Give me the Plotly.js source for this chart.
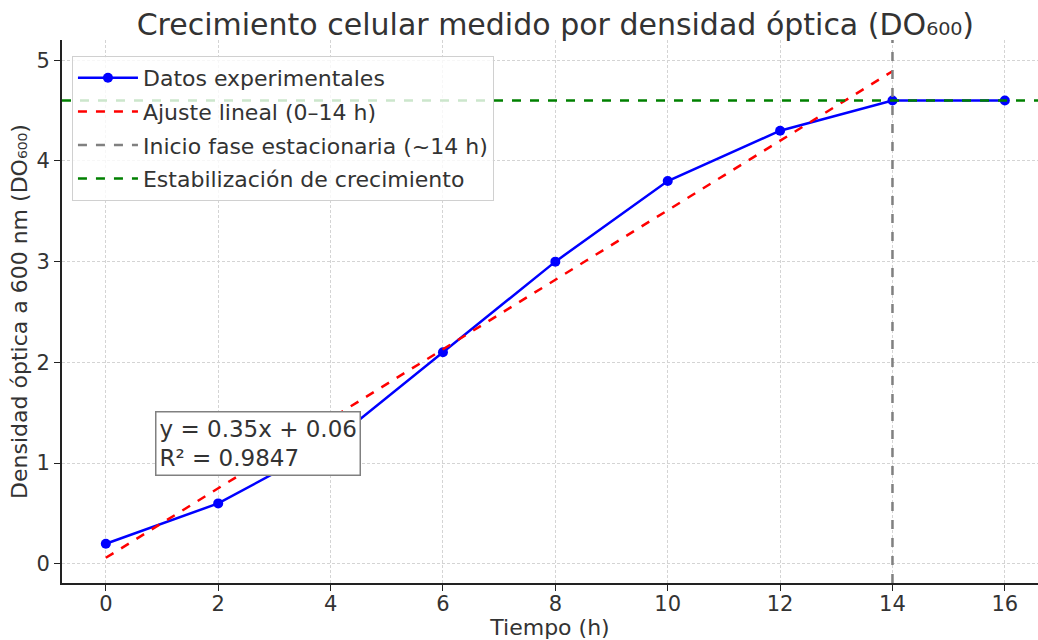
<!DOCTYPE html>
<html>
<head>
<meta charset="utf-8">
<script src="https://cdn.plot.ly/plotly-3.0.1.min.js"></script>
<style>html,body{margin:0;padding:0;background:#fff;}#chart{width:1038px;height:640px;}</style>
</head>
<body>
<div id="chart"></div>
<script>
const tiempo = [0, 2, 4, 6, 8, 10, 12, 14, 16];
const densidad = [0.2, 0.6, 1.2, 2.1, 3.0, 3.8, 4.3, 4.6, 4.6];
const ajusteX = [0, 14];
const ajusteY = [0.06, 4.89];
const inicioEstacionaria = 14;
const estabilizacion = 4.6;
const xTicks = [0, 2, 4, 6, 8, 10, 12, 14, 16];
const yTicks = [0, 1, 2, 3, 4, 5];
const xRange = [-0.78, 16.59];
const yRange = [-0.19, 5.2];

const FONT = 'DejaVu Sans, sans-serif';
const TXT = '#333333';

const traces = [
  {x: tiempo, y: densidad, mode: 'lines+markers', name: 'Datos experimentales', legendgroup: 'a',
   line: {color: '#0000ff', width: 2.5}, marker: {color: '#0000ff', size: 10}},
  {x: ajusteX, y: ajusteY, mode: 'lines', name: 'Ajuste lineal (0–14 h)', legendgroup: 'b',
   line: {color: '#ff0000', width: 2.5, dash: 'dash'}},
  {x: [inicioEstacionaria, inicioEstacionaria], y: yRange, mode: 'lines', name: 'Inicio fase estacionaria (~14 h)', legendgroup: 'c',
   line: {color: '#808080', width: 2.5, dash: 'dash'}},
  {x: xRange, y: [estabilizacion, estabilizacion], mode: 'lines', name: 'Estabilización de crecimiento', legendgroup: 'd',
   line: {color: '#008000', width: 2.5, dash: 'dash'}}
];

const layout = {
  width: 1038, height: 640,
  margin: {l: 62, r: 0, t: 40, b: 57},
  paper_bgcolor: '#ffffff', plot_bgcolor: '#ffffff',
  font: {family: FONT, color: TXT},
  title: {text: 'Crecimiento celular medido por densidad óptica (DO₆₀₀)', font: {size: 30, color: TXT, family: FONT},
          x: 0.535, xanchor: 'center', y: 0.962, yanchor: 'middle'},
  xaxis: {range: xRange, tickvals: xTicks, ticktext: xTicks.map(String),
          showgrid: true, gridcolor: '#d4d4d4', griddash: '3px,2px', gridwidth: 1,
          zeroline: false, showline: true, linecolor: '#222222', linewidth: 2,
          ticks: 'outside', ticklen: 6, tickcolor: '#222222', tickfont: {size: 21, color: TXT},
          ticklabelstandoff: -5,
          title: {text: 'Tiempo (h)', font: {size: 22, color: TXT}, standoff: 12}},
  yaxis: {range: yRange, tickvals: yTicks, ticktext: yTicks.map(String),
          showgrid: true, gridcolor: '#d4d4d4', griddash: '3px,2px', gridwidth: 1,
          zeroline: false, showline: true, linecolor: '#222222', linewidth: 2,
          ticks: 'outside', ticklen: 6, tickcolor: '#222222', tickfont: {size: 21, color: TXT},
          title: {text: 'Densidad óptica a 600 nm (DO₆₀₀)', font: {size: 22, color: TXT}, standoff: 3}},
  legend: {x: 0.0102, y: 0.9705, xanchor: 'left', yanchor: 'top',
           bgcolor: 'rgba(255,255,255,0.8)', bordercolor: '#d0d0d0', borderwidth: 1,
           font: {size: 22, color: TXT}, tracegroupgap: 2, itemwidth: 60},
  annotations: [{x: 0.87, y: 1.52, xref: 'x', yref: 'y', xanchor: 'left', yanchor: 'top',
                 text: 'y = 0.35x + 0.06<br>R² = 0.9847', showarrow: false, align: 'left',
                 font: {size: 23, color: TXT}, bgcolor: '#ffffff', bordercolor: '#808080', borderwidth: 1.5, borderpad: 3}],
  showlegend: true
};

Plotly.newPlot('chart', traces, layout, {displayModeBar: false, staticPlot: true});
</script>
</body>
</html>
